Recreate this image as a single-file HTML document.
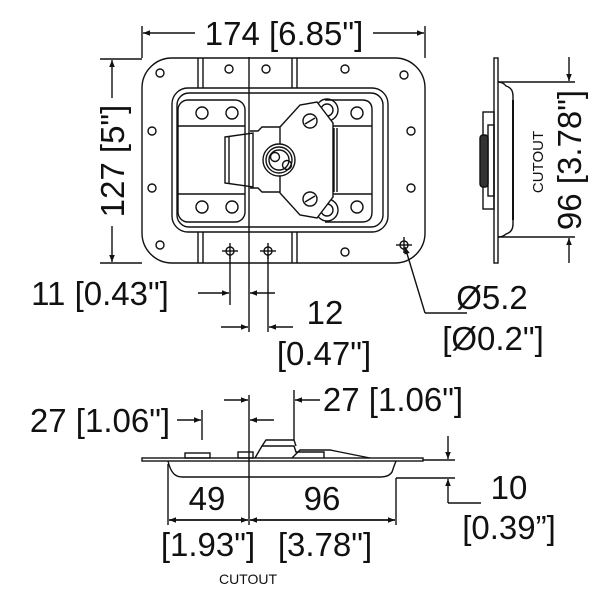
<!DOCTYPE html>
<html><head><meta charset="utf-8"><style>html,body{margin:0;padding:0;background:#fff}svg{display:block}text{font-family:"Liberation Sans",Arial,sans-serif;fill:#111}</style></head>
<body>
<svg width="600" height="600" viewBox="0 0 600 600" xmlns="http://www.w3.org/2000/svg">
<defs>
<marker id="a" viewBox="0 0 10 10" refX="10" refY="5" markerWidth="12" markerHeight="7" orient="auto-start-reverse" markerUnits="userSpaceOnUse"><path d="M0,1 L10,5 L0,9 Z" fill="#111"/></marker>
</defs>
<g stroke="#111" fill="none" stroke-width="1.4">
<rect x="142" y="58" width="283" height="205" rx="30"/>
<line x1="198" y1="58" x2="198" y2="88"/><line x1="203" y1="58" x2="203" y2="88"/>
<line x1="292" y1="58" x2="292" y2="88"/><line x1="297" y1="58" x2="297" y2="88"/>
<line x1="198" y1="232" x2="198" y2="263"/><line x1="203" y1="232" x2="203" y2="263"/>
<line x1="292" y1="232" x2="292" y2="263"/><line x1="297" y1="232" x2="297" y2="263"/>
<rect x="172" y="88" width="216" height="144" rx="16"/>
<rect x="177" y="93" width="206" height="134" rx="12"/>
<rect x="178" y="100" width="67" height="122" rx="10"/>
<line x1="178" y1="126" x2="245" y2="126"/><line x1="178" y1="194" x2="245" y2="194"/>
<circle cx="202" cy="113" r="6"/><circle cx="232" cy="113" r="6"/><circle cx="202" cy="207" r="6"/><circle cx="232" cy="207" r="6"/>
<path d="M325 100 H362 Q372 100 372 110 V212 Q372 222 362 222 H325"/>
<line x1="330" y1="126" x2="372" y2="126"/><line x1="330" y1="194" x2="372" y2="194"/>
<circle cx="357" cy="113" r="6"/><circle cx="357" cy="207" r="6"/>
<line x1="334" y1="128" x2="334" y2="192"/><line x1="337" y1="128" x2="337" y2="192"/>
<path d="M225 137 L253 133 V187 L225 183 Z"/><line x1="229" y1="137" x2="229" y2="183"/>
<path d="M250 131 H258 L262 127 H282 V192 H262 L258 188 H250"/>
<circle cx="327" cy="110" r="11"/><circle cx="327" cy="110" r="6"/>
<circle cx="327" cy="210" r="11"/><circle cx="327" cy="210" r="6"/>
<path d="M280 127 L300 105 L317 102 L333 123 V197 L317 218 L300 215 L280 193 Z" fill="#fff"/>
<circle cx="310" cy="121" r="7"/><line x1="305" y1="124" x2="315" y2="118"/>
<circle cx="310" cy="199" r="7"/><line x1="305" y1="202" x2="315" y2="196"/>
<circle cx="279" cy="160" r="16" fill="#fff"/><circle cx="279" cy="160" r="13"/><circle cx="279" cy="160" r="10"/>
<circle cx="275" cy="157" r="4.5"/><circle cx="287" cy="165" r="4.5"/>
<circle cx="160" cy="73" r="4"/><circle cx="404" cy="75" r="4"/><circle cx="160" cy="245" r="4"/>
<circle cx="152" cy="131" r="4"/><circle cx="152" cy="188" r="4"/><circle cx="411" cy="131" r="4"/><circle cx="411" cy="188" r="4"/>
<circle cx="229" cy="69" r="4"/><circle cx="266" cy="69" r="4"/><circle cx="345" cy="69" r="4"/><circle cx="345" cy="252" r="4"/>
<circle cx="230" cy="251" r="4"/><line x1="222" y1="251" x2="238" y2="251"/><line x1="230" y1="243" x2="230" y2="259"/>
<circle cx="268" cy="251" r="4"/><line x1="260" y1="251" x2="276" y2="251"/><line x1="268" y1="243" x2="268" y2="259"/>
<circle cx="404" cy="245" r="4"/><line x1="396" y1="245" x2="412" y2="245"/><line x1="404" y1="237" x2="404" y2="253"/>
<line x1="249" y1="57" x2="249" y2="332"/>
<line x1="142" y1="26" x2="142" y2="58"/><line x1="425" y1="26" x2="425" y2="58"/>
<line x1="195" y1="33" x2="143" y2="33" marker-end="url(#a)"/><line x1="373" y1="33" x2="424" y2="33" marker-end="url(#a)"/>
<line x1="100" y1="59" x2="142" y2="59"/><line x1="100" y1="263" x2="142" y2="263"/>
<line x1="112" y1="98" x2="112" y2="60" marker-end="url(#a)"/><line x1="112" y1="226" x2="112" y2="262" marker-end="url(#a)"/>
<line x1="230" y1="255" x2="230" y2="305"/><line x1="268" y1="255" x2="268" y2="332"/>
<line x1="198" y1="293" x2="229" y2="293" marker-end="url(#a)"/><line x1="275" y1="293" x2="250" y2="293" marker-end="url(#a)"/>
<line x1="221" y1="327" x2="248" y2="327" marker-end="url(#a)"/><line x1="293" y1="327" x2="269" y2="327" marker-end="url(#a)"/>
<line x1="425" y1="313" x2="467" y2="313"/><line x1="425" y1="313" x2="405" y2="247" marker-end="url(#a)"/>
<rect x="494" y="58" width="4" height="205"/>
<path d="M498 82 Q503 82 506 86 Q513 88 513 96 V224 Q513 232 506 234 Q503 237 498 237"/>
<rect x="483" y="112" width="11" height="97"/><rect x="488" y="125" width="6" height="71"/>
<rect x="480" y="135" width="8" height="52" rx="3" fill="#333"/>
<line x1="513" y1="100" x2="513" y2="220" stroke-width="2"/>
<line x1="498" y1="82" x2="575" y2="82"/><line x1="498" y1="237" x2="575" y2="237"/>
<line x1="569" y1="57" x2="569" y2="81" marker-end="url(#a)"/><line x1="569" y1="263" x2="569" y2="238" marker-end="url(#a)"/>
<rect x="142" y="458" width="281" height="3"/>
<path d="M168 461 Q170 470 174 474 Q177 477 183 477 H380 Q389 477 392 472 Q394 466 396 461"/>
<line x1="249" y1="395" x2="249" y2="525"/>
<rect x="185" y="453" width="25" height="5"/><rect x="238" y="452" width="15" height="6"/>
<path d="M255 458 L262 446 H294 L296 452 H324 V458"/>
<path d="M262 446 L266 440 H294 L296 446"/>
<path d="M292 458 L300 450 H330 L340 452 L370 458"/>
<line x1="202" y1="410" x2="202" y2="440"/><line x1="294" y1="390" x2="294" y2="440"/>
<line x1="177" y1="420" x2="201" y2="420" marker-end="url(#a)"/><line x1="274" y1="420" x2="250" y2="420" marker-end="url(#a)"/>
<line x1="224" y1="400" x2="248" y2="400" marker-end="url(#a)"/><line x1="320" y1="400" x2="295" y2="400" marker-end="url(#a)"/>
<line x1="423" y1="460" x2="455" y2="460"/><line x1="396" y1="478" x2="455" y2="478"/>
<line x1="448" y1="436" x2="448" y2="459" marker-end="url(#a)"/><line x1="448" y1="503" x2="448" y2="479" marker-end="url(#a)"/>
<line x1="448" y1="503" x2="481" y2="503"/>
<line x1="168" y1="464" x2="168" y2="525"/><line x1="396" y1="478" x2="396" y2="525"/>
<line x1="169" y1="520" x2="248" y2="520" marker-end="url(#a)"/><line x1="248" y1="520" x2="169" y2="520" marker-end="url(#a)"/>
<line x1="250" y1="520" x2="395" y2="520" marker-end="url(#a)"/><line x1="395" y1="520" x2="250" y2="520" marker-end="url(#a)"/>
</g>
<g font-size="33" text-anchor="middle">
<text x="284" y="45">174 [6.85"]</text>
<text transform="translate(124,161) rotate(-90)">127 [5"]</text>
<text transform="translate(581,160) rotate(-90)">96 [3.78"]</text>
<text transform="translate(543,162) rotate(-90)" font-size="15">CUTOUT</text>
<text x="100" y="305">11 [0.43"]</text>
<text x="325" y="324">12</text>
<text x="324" y="365">[0.47"]</text>
<text x="492" y="309">Ø5.2</text>
<text x="493" y="350">[Ø0.2"]</text>
<text x="100" y="432">27 [1.06"]</text>
<text x="393" y="411">27 [1.06"]</text>
<text x="207" y="510">49</text>
<text x="322" y="510">96</text>
<text x="509" y="499">10</text>
<text x="509" y="539">[0.39”]</text>
<text x="208" y="556">[1.93"]</text>
<text x="325" y="556">[3.78"]</text>
<text x="248" y="584" font-size="14">CUTOUT</text>
</g>
</svg>
</body></html>
